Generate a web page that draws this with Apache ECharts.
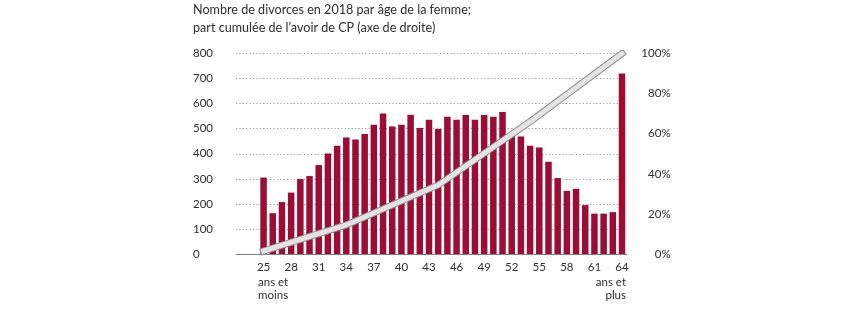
<!DOCTYPE html>
<html>
<head>
<meta charset="utf-8">
<script src="https://cdn.jsdelivr.net/npm/echarts@6/dist/echarts.min.js"></script>
<style>
  html, body { margin: 0; padding: 0; background: #ffffff; }
  #chart { width: 845px; height: 321px; }
</style>
</head>
<body>
<div id="chart"></div>
<script>
// Divorces in 2018 by age of the woman (left axis)
const ages = [25, 26, 27, 28, 29, 30, 31, 32, 33, 34, 35, 36, 37, 38, 39, 40, 41, 42, 43, 44,
              45, 46, 47, 48, 49, 50, 51, 52, 53, 54, 55, 56, 57, 58, 59, 60, 61, 62, 63, 64];
const divorces = [305, 163, 207, 245, 299, 311, 355, 401, 432, 465, 457, 479, 516, 561, 509, 516, 556, 503, 536, 499,
                  548, 536, 555, 536, 555, 548, 567, 474, 469, 432, 425, 368, 303, 252, 260, 195, 161, 161, 167, 720];

// Cumulative share of pension assets (right axis, %)
const cpAges = [25, 34, 44, 54, 64];
const cpShare = [1.5, 14.5, 34.4, 66, 100];

// Axis tick labels
const xTicks = [25, 28, 31, 34, 37, 40, 43, 46, 49, 52, 55, 58, 61, 64];

const FONT = 'Lato';
const TEXT = '#2e2e2e';

const chart = echarts.init(document.getElementById('chart'), null, { renderer: 'canvas' });

const barData = ages.map((a, i) => [a, divorces[i]]);
const lineData = cpAges.map((a, i) => [a, cpShare[i]]);

chart.setOption({
  animation: false,
  backgroundColor: '#ffffff',
  textStyle: { fontFamily: FONT },
  title: {
    text: 'Nombre de divorces en 2018 par âge de la femme;\npart cumulée de l\u2019avoir de CP (axe de droite)',
    left: 193,
    top: 1,
    padding: 0,
    textStyle: { fontFamily: FONT, fontSize: 12.6, fontWeight: 'normal', color: TEXT, lineHeight: 18 }
  },
  grid: { left: 236, right: 218.4, top: 53.5, bottom: 67, containLabel: false },
  xAxis: {
    type: 'value',
    min: 22,
    max: 64.5,
    splitLine: { show: false },
    axisTick: { show: false },
    axisLine: { show: true, lineStyle: { color: '#808080', width: 1 } },
    axisLabel: {
      customValues: xTicks,
      margin: 7,
      fontFamily: FONT,
      fontSize: 11.5,
      color: TEXT
    }
  },
  yAxis: [
    {
      type: 'value',
      min: 0,
      max: 800,
      interval: 100,
      axisLine: { show: false },
      axisTick: { show: false },
      splitLine: { show: true, lineStyle: { color: '#9a9a9a', width: 1, type: [1.2, 2.2] } },
      axisLabel: {
        align: 'left',
        margin: 43,
        padding: [0, 0, 6, 0],
        fontFamily: FONT,
        fontSize: 11.5,
        color: TEXT
      }
    },
    {
      type: 'value',
      min: 0,
      max: 100,
      interval: 20,
      position: 'right',
      axisLine: { show: false },
      axisTick: { show: false },
      splitLine: { show: false },
      axisLabel: {
        align: 'right',
        margin: 44,
        padding: [0, 0, 6, 0],
        fontFamily: FONT,
        fontSize: 11.5,
        color: TEXT,
        formatter: '{value}%'
      }
    }
  ],
  graphic: [
    {
      type: 'text',
      left: 258,
      top: 276,
      style: { text: 'ans et\nmoins', fontFamily: FONT, fontSize: 11.5, lineHeight: 13, fill: TEXT, textAlign: 'left' }
    },
    {
      type: 'text',
      right: 219,
      top: 276,
      style: { text: 'ans et\nplus', fontFamily: FONT, fontSize: 11.5, lineHeight: 13, fill: TEXT, textAlign: 'right' }
    }
  ],
  series: [
    {
      name: 'Divorces',
      type: 'bar',
      yAxisIndex: 0,
      data: barData,
      barWidth: 6.5,
      itemStyle: { color: '#9b0d35' },
      z: 2
    },
    {
      name: 'Part cumulée (contour)',
      type: 'line',
      yAxisIndex: 1,
      data: lineData,
      symbol: 'none',
      lineStyle: { color: '#8c8c8c', width: 7, cap: 'square', join: 'miter' },
      z: 3
    },
    {
      name: 'Part cumulée',
      type: 'line',
      yAxisIndex: 1,
      data: lineData,
      symbol: 'none',
      lineStyle: { color: '#e3e3e3', width: 5, cap: 'square', join: 'miter' },
      z: 4
    }
  ]
});
</script>
</body>
</html>
